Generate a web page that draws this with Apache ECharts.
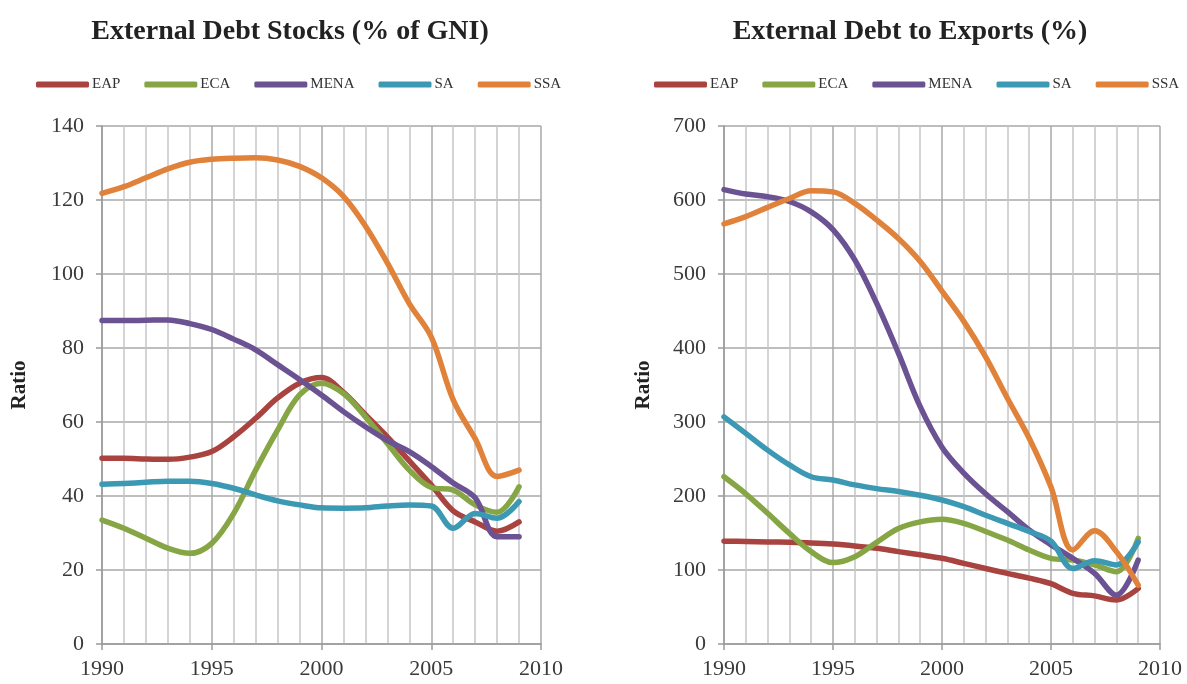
<!DOCTYPE html>
<html>
<head>
<meta charset="utf-8">
<title>External Debt Indicators</title>
<script src="https://cdn.jsdelivr.net/npm/echarts@6/dist/echarts.min.js"></script>
<style>
  html, body { margin: 0; padding: 0; background: #fff; }
  #chart { width: 1187px; height: 684px; }
</style>
</head>
<body>
<div id="chart"></div>
<script>
// Years covered by both panels
const years = [1990, 1991, 1992, 1993, 1994, 1995, 1996, 1997, 1998, 1999,
               2000, 2001, 2002, 2003, 2004, 2005, 2006, 2007, 2008, 2009];

const regions = ['EAP', 'ECA', 'MENA', 'SA', 'SSA'];

// External debt stocks, % of GNI
const gniEAP  = [50.2, 50.2, 50.0, 49.9, 50.5, 52.0, 56.0, 61.0, 66.5, 70.5, 72.0, 68.0, 62.0, 56.0, 49.5, 43.0, 36.0, 33.0, 30.5, 33.0];
const gniECA  = [33.5, 31.3, 28.6, 25.9, 24.5, 27.2, 35.3, 47.0, 57.8, 67.3, 70.5, 67.7, 61.4, 54.2, 47.0, 42.3, 41.6, 37.6, 35.6, 42.5];
const gniMENA = [87.4, 87.4, 87.5, 87.6, 86.6, 85.0, 82.4, 79.5, 75.5, 71.5, 67.3, 62.8, 58.7, 55.0, 52.0, 48.0, 43.5, 39.5, 29.0, 29.0];
const gniSA   = [43.2, 43.4, 43.7, 44.0, 44.0, 43.4, 42.1, 40.3, 38.7, 37.6, 36.8, 36.7, 36.8, 37.3, 37.6, 37.3, 31.3, 35.3, 34.0, 38.5];
const gniSSA  = [121.8, 123.6, 126.0, 128.4, 130.2, 131.0, 131.3, 131.4, 130.8, 129.1, 126.0, 121.0, 113.0, 103.0, 92.0, 83.0, 66.0, 55.5, 45.3, 47.0];

// External debt, % of exports
const expEAP  = [139, 138.5, 138, 137.4, 136.5, 135, 132.5, 129.3, 124.8, 120.5, 115.8, 109, 102, 95.5, 89, 81.5, 68.5, 65, 59.5, 75];
const expECA  = [226, 203, 176.6, 149.5, 124.8, 110, 118, 137.4, 156, 165, 168.5, 163, 152, 140.5, 127, 115.8, 113.5, 106.8, 97.7, 142.8];
const expMENA = [614, 608, 604.5, 598, 584, 560, 519, 460.6, 393, 320.7, 266, 231, 203, 178.8, 154, 134, 115.8, 95.5, 66, 113.5];
const expSA   = [307, 284.7, 262, 242, 226, 221.6, 215, 210, 206, 201, 194.6, 185.6, 174, 163, 152, 139, 102, 112.6, 106.8, 138];
const expSSA  = [567.7, 577.5, 590, 602, 612.6, 611, 595.5, 573, 548, 517, 477, 436, 388, 332, 278, 212, 127, 153, 124.8, 79.7];

const colors = ['#A9433F', '#86A645', '#6B5293', '#3C99B4', '#E0823A'];

const gniSeries = [gniEAP, gniECA, gniMENA, gniSA, gniSSA];
const expSeries = [expEAP, expECA, expMENA, expSA, expSSA];

const serif = '"Liberation Serif", "DejaVu Serif", serif';

function pairs(values) {
  return years.map((y, i) => [y, values[i]]);
}

function makeSeries(valueSets, axisIndex) {
  return valueSets.map((vals, k) => ({
    name: regions[k],
    type: 'line',
    xAxisIndex: axisIndex,
    yAxisIndex: axisIndex,
    data: pairs(vals),
    smooth: 0.35,
    symbol: 'none',
    lineStyle: { width: 5.5, color: colors[k], cap: 'round', join: 'round' },
    itemStyle: { color: colors[k] },
    z: 3 + k
  }));
}

function xAxisFor(gridIndex) {
  return {
    type: 'value',
    gridIndex: gridIndex,
    min: 1990,
    max: 2010,
    interval: 5,
    axisLine: { show: true, lineStyle: { color: '#9a9a9a', width: 1.5 } },
    axisTick: { show: true, length: 6, lineStyle: { color: '#9a9a9a', width: 1.5 } },
    axisLabel: {
      fontFamily: serif, fontSize: 22, color: '#3a3a3a', margin: 14,
      formatter: v => String(v)
    },
    splitLine: { show: true, lineStyle: { color: '#a8a8a8', width: 1.5 } },
    minorTick: { show: false, splitNumber: 5 },
    minorSplitLine: { show: true, lineStyle: { color: '#c6c6ca', width: 1.5 } }
  };
}

function yAxisFor(gridIndex, max, interval) {
  return {
    type: 'value',
    gridIndex: gridIndex,
    min: 0,
    max: max,
    interval: interval,
    name: 'Ratio',
    nameLocation: 'middle',
    nameGap: gridIndex === 0 ? 72 : 70,
    nameRotate: 90,
    nameTextStyle: { fontFamily: serif, fontSize: 21, fontWeight: 'bold', color: '#222' },
    axisLine: { show: true, lineStyle: { color: '#9a9a9a', width: 1.5 } },
    axisTick: { show: true, length: 6, lineStyle: { color: '#9a9a9a', width: 1.5 } },
    axisLabel: { fontFamily: serif, fontSize: 22, color: '#3a3a3a', margin: 18 },
    splitLine: { show: true, lineStyle: { color: '#a8a8a8', width: 1.5 } }
  };
}

function legendAt(left) {
  return {
    left: left,
    top: 72,
    orient: 'horizontal',
    data: regions,
    icon: 'roundRect',
    itemWidth: 53,
    itemHeight: 6,
    itemGap: 24,
    selectedMode: false,
    textStyle: { fontFamily: serif, fontSize: 15, color: '#333', padding: [0, 0, 0, -2] }
  };
}

const chart = echarts.init(document.getElementById('chart'), null, { renderer: 'canvas' });

chart.setOption({
  backgroundColor: '#ffffff',
  animation: false,
  title: [
    {
      text: 'External Debt Stocks (% of GNI)',
      left: 285, top: 13, textAlign: 'center',
      textStyle: { fontFamily: serif, fontSize: 28, fontWeight: 'bold', color: '#222' }
    },
    {
      text: 'External Debt to Exports (%)',
      left: 905, top: 13, textAlign: 'center',
      textStyle: { fontFamily: serif, fontSize: 28, fontWeight: 'bold', color: '#222' }
    }
  ],
  legend: [legendAt(31), legendAt(649)],
  grid: [
    { left: 102, right: 646, top: 126, bottom: 40, containLabel: false },
    { left: 724, right: 27, top: 126, bottom: 40, containLabel: false }
  ],
  xAxis: [xAxisFor(0), xAxisFor(1)],
  yAxis: [yAxisFor(0, 140, 20), yAxisFor(1, 700, 100)],
  series: makeSeries(gniSeries, 0).concat(makeSeries(expSeries, 1))
});
</script>
</body>
</html>
